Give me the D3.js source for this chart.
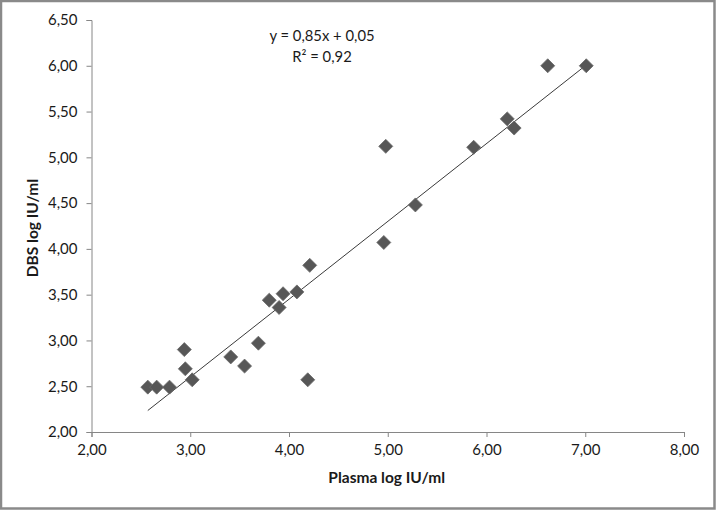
<!DOCTYPE html>
<html>
<head>
<meta charset="utf-8">
<script src="https://cdn.jsdelivr.net/npm/d3@7"></script>
<style>
  html, body { margin: 0; padding: 0; background: #fff; }
  svg { display: block; }
  text { font-family: Lato, "Open Sans", sans-serif; fill: #1a1a1a; }
</style>
</head>
<body>
<svg id="chart" width="716" height="510"></svg>
<script>
// Data
const plasma = [2.57, 2.66, 2.79, 2.94, 2.95, 3.02, 3.41, 3.55, 3.69, 3.80, 3.90, 3.94, 4.08, 4.21, 4.19, 4.96, 4.98, 5.28, 5.87, 6.21, 6.28, 6.62, 7.01];
const dbs    = [2.49, 2.49, 2.49, 2.90, 2.69, 2.57, 2.82, 2.72, 2.97, 3.44, 3.36, 3.51, 3.53, 3.82, 2.57, 4.07, 5.12, 4.48, 5.11, 5.42, 5.32, 6.00, 6.00];
const xTicks = [2, 3, 4, 5, 6, 7, 8];
const yTicks = [2, 2.5, 3, 3.5, 4, 4.5, 5, 5.5, 6, 6.5];
const trendCoef = [0.85, 0.05]; // slope, intercept
const equationLines = ["y = 0,85x + 0,05", "R² = 0,92"];
const xTitle = "Plasma log IU/ml";
const yTitle = "DBS log IU/ml";

const svg = d3.select("#chart");
const W = 716, H = 510;

// outer border
svg.append("rect").attr("x", 1).attr("y", 1).attr("width", W - 2.5).attr("height", H - 2.5)
  .attr("fill", "#fff").attr("stroke", "#8a8a8a").attr("stroke-width", 2.5);

const x = d3.scaleLinear().domain([2, 8]).range([91.5, 684]);
const y = d3.scaleLinear().domain([2, 6.5]).range([432, 20]);

const fmt = d => d.toFixed(2).replace(".", ",");

// Axes
const xAxis = svg.append("g").attr("transform", `translate(0,${y(2)})`)
  .call(d3.axisBottom(x).tickValues(xTicks).tickFormat(fmt).tickSize(5).tickPadding(7));
const yAxis = svg.append("g").attr("transform", `translate(${x(2)},0)`)
  .call(d3.axisLeft(y).tickValues(yTicks).tickFormat(fmt).tickSize(5).tickPadding(9));
[xAxis, yAxis].forEach(g => {
  g.select(".domain").attr("stroke", "#868686");
  g.selectAll(".tick line").attr("stroke", "#868686");
  g.selectAll(".tick text").attr("font-size", 15).attr("fill", "#1a1a1a")
    .style("font-family", "Lato, 'Open Sans', sans-serif");
});

// Trendline
const xMin = d3.min(plasma), xMax = d3.max(plasma);
const line = d3.line().x(d => x(d)).y(d => y(trendCoef[0] * d + trendCoef[1]));
svg.append("path").datum([xMin, xMax]).attr("d", line)
  .attr("stroke", "#3a3a3a").attr("stroke-width", 1).attr("fill", "none");

// Points (diamonds)
const sym = d3.symbol().type(d3.symbolDiamond2).size(125);
svg.append("g").selectAll("path").data(plasma.map((p, i) => [p, dbs[i]])).join("path")
  .attr("d", sym)
  .attr("transform", d => `translate(${x(d[0])},${y(d[1])})`)
  .attr("fill", "#575757").attr("stroke", "#6a6a6a").attr("stroke-width", 0.8);

// Equation
svg.append("g").selectAll("text").data(equationLines).join("text")
  .attr("x", 322).attr("y", (d, i) => 41 + i * 21)
  .attr("text-anchor", "middle").attr("font-size", 14.8).text(d => d);

// Axis titles
svg.append("text").attr("x", x(5) - 1).attr("y", 483).attr("text-anchor", "middle")
  .attr("font-size", 15.5).attr("font-weight", "bold").text(xTitle);
svg.append("text").attr("transform", `translate(38,${(y(2) + y(6.5)) / 2 + 2}) rotate(-90)`)
  .attr("text-anchor", "middle").attr("font-size", 15.5).attr("font-weight", "bold").text(yTitle);
</script>
</body>
</html>
